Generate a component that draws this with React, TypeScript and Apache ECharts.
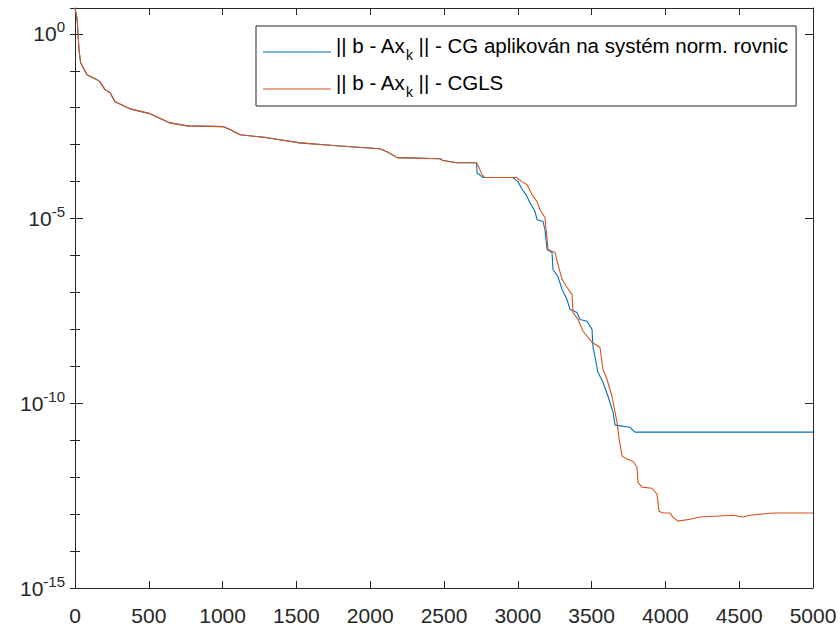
import React, { useEffect, useRef } from "react";
import * as echarts from "echarts";

const FONT = '"Liberation Sans", Arial, Helvetica, sans-serif';
const AXIS_COLOR = "#262626";

// x tick labels and y decade exponents
const xTicks = [0, 500, 1000, 1500, 2000, 2500, 3000, 3500, 4000, 4500, 5000];
const yDecadeLabels = [-15, -10, -5, 0];

// shared early part of both residual curves (iteration, log10 of residual)
const commonIter = [0, 15, 20, 27, 38, 81, 149, 169, 203, 237, 271, 373, 508, 644, 759, 1003, 1050, 1118, 1301, 1524, 1750, 2066, 2114, 2182, 2473, 2493, 2588, 2720];
const commonLog = [0.7, 0.38, 0.03, -0.43, -0.78, -1.11, -1.24, -1.3, -1.51, -1.59, -1.84, -2.03, -2.16, -2.41, -2.49, -2.51, -2.59, -2.73, -2.81, -2.95, -3.02, -3.11, -3.19, -3.35, -3.38, -3.43, -3.49, -3.49];

// CG applied to normal equations, after iteration 2720
const cgIter = [2724, 2764, 2967, 3001, 3028, 3055, 3083, 3117, 3130, 3171, 3184, 3198, 3232, 3238, 3272, 3300, 3333, 3354, 3401, 3421, 3469, 3503, 3509, 3543, 3577, 3611, 3645, 3659, 3760, 3794, 5000];
const cgLog = [-3.76, -3.89, -3.89, -4.0, -4.2, -4.35, -4.57, -4.81, -5.03, -5.08, -5.3, -5.84, -5.92, -6.38, -6.57, -6.92, -7.19, -7.46, -7.54, -7.73, -7.78, -8.0, -8.46, -9.16, -9.43, -9.81, -10.24, -10.59, -10.65, -10.78, -10.78];

// CGLS, after iteration 2720
const cglsIter = [2737, 2757, 2778, 2990, 3028, 3062, 3096, 3130, 3150, 3184, 3205, 3252, 3272, 3300, 3333, 3367, 3374, 3408, 3442, 3503, 3557, 3577, 3604, 3638, 3672, 3686, 3706, 3740, 3780, 3808, 3814, 3841, 3909, 3943, 3957, 3984, 4031, 4051, 4085, 4167, 4234, 4458, 4526, 4573, 4729, 5000];
const cglsLog = [-3.62, -3.81, -3.89, -3.89, -4.0, -4.08, -4.35, -4.54, -4.76, -4.97, -5.84, -5.92, -6.24, -6.65, -6.86, -7.05, -7.54, -7.73, -8.05, -8.35, -8.49, -9.08, -9.35, -9.81, -10.51, -10.95, -11.43, -11.51, -11.57, -11.73, -12.14, -12.27, -12.3, -12.46, -12.92, -12.97, -12.97, -13.08, -13.19, -13.14, -13.08, -13.03, -13.08, -13.03, -12.97, -12.97];

const CG_NAME = "|| b - Ax_k || - CG aplikován na systém norm. rovnic";
const CGLS_NAME = "|| b - Ax_k || - CGLS";

function pairs(xs: number[], ys: number[]) {
  return xs.map((x, i) => [x, ys[i]]);
}

function legendText(name: string) {
  const [pre, post] = name.split("Ax_k");
  return `{n|${pre}Ax}{k|k}{n|${post}}`;
}

export default function App() {
  const ref = useRef<HTMLDivElement>(null);

  useEffect(() => {
    if (!ref.current) return;
    const chart = echarts.init(ref.current, undefined, { renderer: "svg" });

    const isDecadeLabel = (v: number) =>
      yDecadeLabels.some((d) => Math.abs(d - v) < 1e-9);

    const yRich = {
      b: { fontSize: 21, fontFamily: FONT, color: AXIS_COLOR, lineHeight: 21, padding: [8, 0, 0, 0], verticalAlign: "bottom" },
      s: { fontSize: 15, fontFamily: FONT, color: AXIS_COLOR, lineHeight: 15, padding: [0, 0, 10, 0], verticalAlign: "bottom" },
    };

    const xBase = {
      type: "value",
      min: xTicks[0],
      max: xTicks[xTicks.length - 1],
      interval: 500,
      splitLine: { show: false },
      axisLine: { show: true, onZero: false, lineStyle: { color: AXIS_COLOR, width: 1 } },
      axisTick: { show: true, inside: true, length: 7, lineStyle: { color: AXIS_COLOR, width: 1 } },
    };

    const yMajor = (position: string, labels: boolean) => ({
      type: "value",
      min: -15,
      max: 0.7,
      interval: 5,
      position,
      splitLine: { show: false },
      axisLine: { show: true, onZero: false, lineStyle: { color: AXIS_COLOR, width: 1 } },
      axisTick: { show: true, inside: true, length: 8, lineStyle: { color: AXIS_COLOR, width: 1 } },
      axisLabel: labels
        ? {
            show: true,
            margin: 10,
            showMaxLabel: false,
            formatter: (v: number) => (isDecadeLabel(v) ? `{b|10}{s|${Math.round(v)}}` : ""),
            rich: yRich,
          }
        : { show: false },
    });

    const yMinor = (position: string) => ({
      type: "value",
      min: -15,
      max: 0.7,
      interval: 1,
      position,
      splitLine: { show: false },
      axisLine: { show: false },
      axisTick: { show: true, inside: true, length: 5, lineStyle: { color: AXIS_COLOR, width: 1 } },
      axisLabel: { show: false },
    });

    const option: any = {
      animation: false,
      backgroundColor: "#ffffff",
      grid: { left: 75, right: 27, top: 8, bottom: 37, containLabel: false },
      xAxis: [
        {
          ...xBase,
          position: "bottom",
          axisLabel: {
            show: true,
            margin: 17,
            fontSize: 21,
            fontFamily: FONT,
            color: AXIS_COLOR,
            formatter: (v: number) => String(v),
          },
        },
        { ...xBase, position: "top", axisLabel: { show: false } },
      ],
      yAxis: [yMajor("left", true), yMinor("left"), yMajor("right", false), yMinor("right")],
      legend: {
        show: true,
        orient: "vertical",
        left: 256,
        top: 26,
        padding: [3, 8, 7, 7],
        itemGap: 4,
        itemWidth: 68,
        itemHeight: 1,
        icon: "rect",
        backgroundColor: "#ffffff",
        borderColor: AXIS_COLOR,
        borderWidth: 1,
        borderRadius: 0,
        data: [CG_NAME, CGLS_NAME],
        formatter: legendText,
        textStyle: {
          color: "#000000",
          fontSize: 20.5,
          fontFamily: FONT,
          rich: {
            n: { fontSize: 20.5, fontFamily: FONT, color: "#000000", lineHeight: 20, padding: [6, 0, 6, 0], verticalAlign: "bottom" },
            k: { fontSize: 14, fontFamily: FONT, color: "#000000", lineHeight: 14, verticalAlign: "bottom" },
          },
        },
      },
      series: [
        {
          type: "line",
          name: CG_NAME,
          xAxisIndex: 0,
          yAxisIndex: 0,
          data: pairs(commonIter.concat(cgIter), commonLog.concat(cgLog)),
          showSymbol: false,
          symbol: "none",
          lineStyle: { width: 1.1, color: "#0072BD" },
          itemStyle: { color: "#0072BD" },
          clip: true,
        },
        {
          type: "line",
          name: CGLS_NAME,
          xAxisIndex: 0,
          yAxisIndex: 0,
          data: pairs(commonIter.concat(cglsIter), commonLog.concat(cglsLog)),
          showSymbol: false,
          symbol: "none",
          lineStyle: { width: 1.1, color: "#D95319" },
          itemStyle: { color: "#D95319" },
          clip: true,
        },
      ],
    };

    chart.setOption(option);
    return () => chart.dispose();
  }, []);

  return (
    <div
      ref={ref}
      style={{ position: "fixed", left: 0, top: 0, width: 840, height: 626, background: "#fff" }}
    />
  );
}
